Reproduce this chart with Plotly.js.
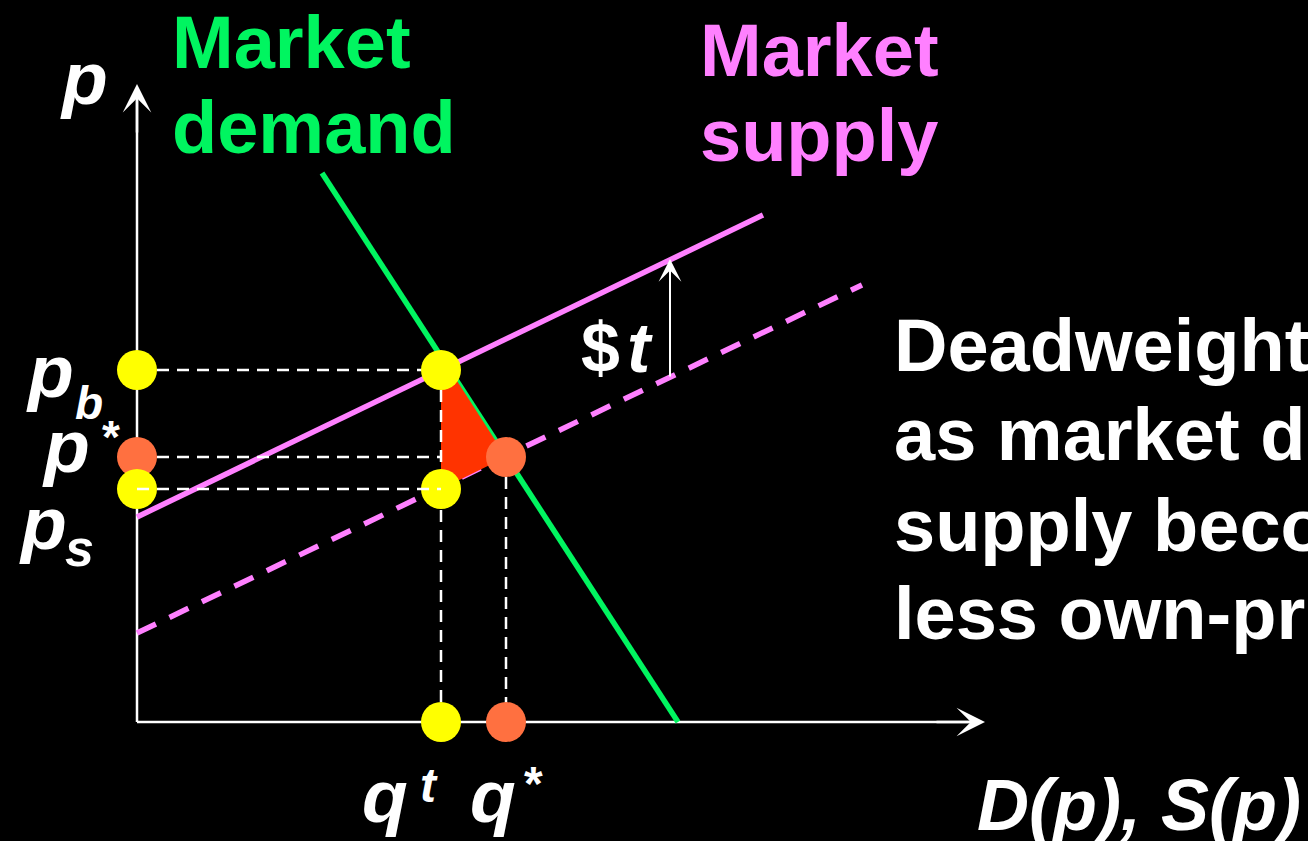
<!DOCTYPE html>
<html><head><meta charset="utf-8">
<script src="https://cdn.plot.ly/plotly-3.0.1.min.js"></script>
<style>html,body{margin:0;padding:0;background:#000;overflow:hidden}#chart{width:1308px;height:841px}</style>
</head><body><div id="chart"></div>
<script>
// Values (1 unit = 10 px, origin at the axes corner)
const demandQ = [18.5, 54.1];
const demandP = [54.9, 0];
const supplyTaxQ = [0, 62.6];      // market supply with tax (solid)
const supplyTaxP = [20.5, 50.7];
const supplyQ = [0, 72.5];         // original market supply (dashed)
const supplyP = [8.9, 43.7];
const qTax = 30.4, qStar = 36.9;
const pBuyer = 35.2, pStar = 26.5, pSeller = 23.3;
const dwlQ = [30.4, 31.3, 36.9, 30.4];
const dwlP = [35.2, 35.2, 26.5, 23.3];
const taxArrowQ = 53.3, taxArrowP = [34.4, 46.3];
const axisMaxQ = 84.8, axisMaxP = 63.8;

const W = 1308, H = 841;
const FONT = 'Liberation Sans, Arial, Helvetica, sans-serif';
const GREEN = '#00f560', PINK = '#ff80ff', YELLOW = '#ffff00', ORANGE = '#ff7040', RED = '#ff3300';

const dashW = {color: '#ffffff', width: 2.5, dash: '12px,8px'};
const traces = [
  {x: [0, 0], y: [0, axisMaxP - 1], mode: 'lines', line: {color: '#fff', width: 2.5}},
  {x: [0, axisMaxQ - 1], y: [0, 0], mode: 'lines', line: {color: '#fff', width: 2.5}},
  {x: supplyQ, y: supplyP, mode: 'lines', line: {color: PINK, width: 5.5, dash: '21px,15px'}},
  {x: supplyTaxQ, y: supplyTaxP, mode: 'lines', line: {color: PINK, width: 5.5}},
  {x: demandQ, y: demandP, mode: 'lines', line: {color: GREEN, width: 5.5}},
  {x: [0, qTax], y: [pBuyer, pBuyer], mode: 'lines', line: dashW},
  {x: [0, qTax], y: [pStar, pStar], mode: 'lines', line: dashW},
  {x: [qStar, qStar], y: [pStar, 0], mode: 'lines', line: dashW},
  {x: dwlQ, y: dwlP, mode: 'lines', fill: 'toself', fillcolor: RED, line: {width: 0, color: RED}},
  {x: [qTax, qTax], y: [pBuyer, 0], mode: 'lines', line: dashW},
  {x: [0, qStar, qStar], y: [pStar, pStar, 0], mode: 'markers', marker: {color: ORANGE, size: 40}},
  {x: [0, qTax, 0, qTax, qTax], y: [pBuyer, pBuyer, pSeller, pSeller, 0], mode: 'markers', marker: {color: YELLOW, size: 40}},
  {x: [0, qTax], y: [pSeller, pSeller], mode: 'lines', line: dashW}
];
traces.forEach(t => { t.hoverinfo = 'skip'; t.showlegend = false; });

function txt(text, px, py, size, color, opts) {
  opts = opts || {};
  return {
    text: text, xref: 'paper', yref: 'paper', x: px / W, y: 1 - py / H,
    xanchor: opts.anchor || 'left', yanchor: 'middle', showarrow: false,
    font: {family: FONT, size: size, color: color, weight: 'bold', style: opts.italic ? 'italic' : 'normal'}
  };
}
function arrow(x, y, ax, ay, w) {
  return {x: x, y: y, ax: ax, ay: ay, xref: 'x', yref: 'y', axref: 'x', ayref: 'y', text: '',
    showarrow: true, arrowhead: 3, arrowsize: 1.9, arrowwidth: w || 2.5, arrowcolor: '#ffffff', standoff: 0};
}

const annotations = [
  arrow(0, axisMaxP, 0, axisMaxP - 5),
  arrow(axisMaxQ, 0, axisMaxQ - 5, 0),
  arrow(taxArrowQ, taxArrowP[1], taxArrowQ, taxArrowP[0], 2),
  txt('Market', 170, 43, 74, GREEN),
  txt('demand', 170, 128, 74, GREEN),
  txt('Market', 698, 50, 74, PINK),
  txt('supply', 698, 136, 74, PINK),
  txt('Deadweight loss falls', 892, 345, 74, '#fff'),
  txt('as market demand and', 892, 434, 74, '#fff'),
  txt('supply become', 892, 525, 74, '#fff'),
  txt('less own-price elastic.', 892, 613, 74, '#fff'),
  txt('p', 84, 78, 75, '#fff', {anchor: 'center', italic: true}),
  txt('p', 50, 371, 75, '#fff', {anchor: 'center', italic: true}),
  txt('b', 89, 403, 46, '#fff', {anchor: 'center', italic: true}),
  txt('*', 111, 437, 46, '#fff', {anchor: 'center'}),
  txt('p', 66, 446, 75, '#fff', {anchor: 'center', italic: true}),
  txt('p', 43, 523, 75, '#fff', {anchor: 'center', italic: true}),
  txt('s', 79, 548, 52, '#fff', {anchor: 'center', italic: true}),
  txt('$', 600, 348, 70, '#fff', {anchor: 'center'}),
  txt('t', 640, 348, 70, '#fff', {anchor: 'center', italic: true}),
  txt('q', 385, 796, 75, '#fff', {anchor: 'center', italic: true}),
  txt('t', 429, 785, 48, '#fff', {anchor: 'center', italic: true}),
  txt('q', 493, 796, 75, '#fff', {anchor: 'center', italic: true}),
  txt('*', 533, 783, 48, '#fff', {anchor: 'center'}),
  txt('D(p), S(p)', 975, 805, 72, '#fff', {italic: true})
];

const layout = {
  width: W, height: H, autosize: false,
  margin: {l: 0, r: 0, t: 0, b: 0, pad: 0},
  paper_bgcolor: '#000', plot_bgcolor: '#000',
  xaxis: {range: [-13.7, 117.1], visible: false, fixedrange: true},
  yaxis: {range: [-11.9, 72.2], visible: false, fixedrange: true},
  showlegend: false, annotations: annotations
};
Plotly.newPlot('chart', traces, layout, {staticPlot: true, displayModeBar: false});
</script></body></html>
